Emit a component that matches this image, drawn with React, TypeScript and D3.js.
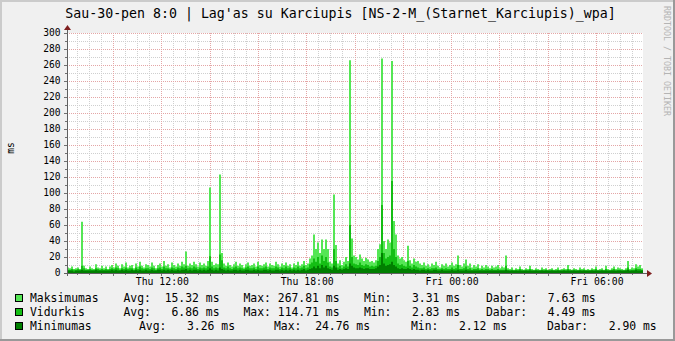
import React from 'react';
import * as d3 from 'd3';

// 5-minute samples, Thu ~08:06 .. Fri ~07:57
const maxVals: number[] = [
  7,6,8,5,6,7,5,64,9,6,5,8,6,5,11,7,6,9,6,8,5,
  8,10,7,12,9,6,11,8,13,7,9,10,6,12,8,14,9,7,11,10,8,13,9,6,10,12,8,15,9,11,7,13,10,8,12,9,14,11,
  27,
  9,12,10,14,11,8,13,10,12,9,15,
  107,
  14,10,12,11,
  123,
  25,
  12,9,13,10,8,11,14,9,12,10,7,11,13,9,10,12,8,14,10,9,11,13,8,12,10,9,14,11,8,12,10,13,9,11,7,12,10,14,9,11,15,10,12,18,22,
  48,30,38,25,42,30,42,30,
  14,12,
  98,
  35,
  12,16,10,14,20,15,
  266,
  43,
  22,20,17,23,18,15,19,17,14,15,13,16,
  30,36,
  268,
  40,30,42,38,
  265,
  65,
  48,22,18,20,16,
  14,
  34,
  16,12,18,14,
  15,12,10,13,9,11,8,12,10,14,9,7,11,9,12,8,10,13,9,11,
  22,
  10,8,12,
  17,
  9,12,7,10,8,11,6,9,7,10,8,6,9,7,8,10,6,8,7,
  22,
  6,5,7,4,6,5,8,5,4,6,
  5,9,5,4,6,5,4,7,5,6,
  4,5,6,4,5,7,4,5,6,5,
  10,5,4,6,5,4,7,5,6,4,
  5,4,6,5,8,4,5,6,4,9,
  5,4,6,8,5,7,6,5,4,6,
  15,5,7,6,11,8,10,6,
];

const avgVals: number[] = [
  4,4,5,4,4,5,4,9,6,4,4,5,4,4,6,5,4,5,4,5,4,
  5,6,5,7,6,4,6,5,7,5,6,6,4,7,5,8,6,5,6,6,5,7,6,4,6,7,5,8,6,6,5,7,6,5,7,6,8,7,
  9,
  6,7,6,8,7,5,7,6,7,6,8,
  21,
  8,6,7,6,
  23,
  16,
  7,6,8,6,5,7,8,6,7,6,5,7,8,6,6,7,5,8,6,6,7,8,5,7,6,6,8,7,5,7,6,8,6,7,5,7,6,8,6,7,9,6,7,11,13,
  18,14,20,12,22,15,20,13,
  8,7,
  30,
  15,
  7,9,6,8,11,8,
  60,
  20,
  12,11,10,13,10,9,11,10,8,9,8,9,
  15,20,
  85,
  25,18,20,22,
  115,
  30,
  20,12,10,11,9,
  8,
  15,
  9,7,10,8,
  7,6,6,7,5,6,5,6,6,7,5,5,6,5,6,5,5,7,5,6,
  10,
  5,5,6,
  8,
  5,6,4,5,5,6,4,5,4,5,5,4,5,4,4,5,4,4,4,
  9,
  4,3,4,3,4,3,5,3,3,4,
  3,5,3,3,4,3,3,4,3,4,
  3,3,4,3,3,4,3,3,4,3,
  5,3,3,4,3,3,4,3,4,3,
  3,3,4,3,5,3,3,4,3,5,
  3,3,4,5,3,4,4,3,3,4,
  7,3,4,4,6,5,5,4,
];

const minVals: number[] = [
  3,3,3,2,3,3,3,4,3,3,3,3,3,3,4,3,3,3,3,3,3,
  3,4,3,4,3,3,4,3,4,3,3,4,3,4,3,4,3,3,4,3,3,4,3,3,4,4,3,4,3,4,3,4,3,3,4,3,4,4,
  5,
  3,4,3,4,4,3,4,3,4,3,4,
  6,
  4,3,4,3,
  7,
  5,
  4,3,4,3,3,4,4,3,4,3,3,4,4,3,3,4,3,4,3,3,4,4,3,4,3,3,4,4,3,4,3,4,3,4,3,4,3,4,3,4,5,3,4,5,6,
  8,6,9,6,10,7,9,6,
  5,4,
  9,
  7,
  4,5,4,5,6,5,
  12,
  9,
  7,6,6,7,6,5,6,6,5,5,5,6,
  8,10,
  25,
  12,9,10,11,
  14,
  10,
  8,6,5,6,5,
  5,
  6,
  5,4,5,4,
  4,3,4,4,3,4,3,3,4,4,3,3,4,3,3,3,3,4,3,3,
  4,
  3,3,3,
  4,
  3,3,3,3,3,3,3,3,3,3,3,3,3,3,3,3,3,3,3,
  4,
  3,3,3,3,3,3,3,3,3,3,
  3,3,3,3,3,3,3,3,3,3,
  3,3,3,3,3,3,3,3,3,3,
  3,3,3,3,3,3,3,3,3,3,
  3,3,3,3,3,3,3,3,3,3,
  3,3,3,3,3,3,3,3,3,3,
  4,3,3,3,4,3,3,3,
];

const seriesNames = ['Maksimumas', 'Vidurkis', 'Minimumas'];
const seriesColors = ['#55e655', '#14be14', '#007f00'];
const legendRows: string[][] = [
  ['Avg:  15.32 ms', 'Max: 267.81 ms', 'Min:   3.31 ms', 'Dabar:   7.63 ms'],
  ['Avg:   6.86 ms', 'Max: 114.71 ms', 'Min:   2.83 ms', 'Dabar:   4.49 ms'],
  ['Avg:   3.26 ms', 'Max:  24.76 ms', 'Min:   2.12 ms', 'Dabar:   2.90 ms'],
];
const legendX: number[][] = [
  [123.5, 243.5, 364, 486],
  [123.5, 243.5, 364, 486],
  [139, 274, 411, 547],
];
const title = "Sau-30-pen 8:0 | Lag'as su Karciupis [NS-2-M_(Starnet_Karciupis)_wpa]";
const xLabelFmt = d3.utcFormat('%a %H:%M');

const FONT = "'DejaVu Sans Mono', monospace";

export default function App() {
  const W = 675, H = 341;
  const left = 67, right = 643, top = 33, bottom = 273;
  const start = new Date(Date.UTC(2009, 0, 29, 8, 5, 42));
  const end = new Date(start.getTime() + 23.85 * 3600e3);
  const x = d3.scaleUtc().domain([start, end]).range([left, right]);
  const y = d3.scaleLinear().domain([0, 300]).range([bottom, top]);
  const n = maxVals.length;
  const step = (end.getTime() - start.getTime()) / n;
  const times = d3.range(n + 1).map(i => new Date(start.getTime() + i * step));

  const areaGen = d3.area<number>()
    .x((_, i) => x(times[i]))
    .y0(y(0))
    .y1(d => y(d))
    .curve(d3.curveStepAfter);
  const pathFor = (vals: number[]) => areaGen(vals.concat([vals[vals.length - 1]])) || '';

  const yMinor = d3.range(10, 301, 10).filter(v => v % 20 !== 0);
  const yMajor = d3.range(20, 301, 20);
  const yLabels = d3.range(0, 301, 20);
  const vMajor = d3.utcHour.every(2)!.range(start, end);
  const vMinor = d3.utcMinute.every(30)!.range(start, end).filter(t => !(t.getUTCMinutes() === 0 && t.getUTCHours() % 2 === 0));
  const xLabelTicks = d3.utcHour.every(6)!.range(start, end);

  const px = (v: number) => Math.round(v) + 0.5;

  return (
    <svg width={W} height={H} style={{ position: 'absolute', left: 0, top: 0, display: 'block' }} xmlns="http://www.w3.org/2000/svg">
      <rect x={0} y={0} width={W} height={H} fill="#f0f0f0" />
      {/* 3D frame */}
      <rect x={0} y={0} width={W} height={2} fill="#cbcbcb" />
      <rect x={0} y={0} width={2} height={H} fill="#cbcbcb" />
      <rect x={0} y={H - 2} width={W} height={2} fill="#999999" />
      <rect x={W - 2} y={0} width={2} height={H} fill="#999999" />
      {/* canvas */}
      <rect x={left} y={top} width={right - left} height={bottom - top} fill="#ffffff" />

      {/* grid */}
      <g strokeWidth={1} strokeDasharray="1,1" fill="none">
        {yMinor.map(v => (
          <line key={'ym' + v} x1={left} x2={right} y1={px(y(v))} y2={px(y(v))} stroke="#cfcfcf" />
        ))}
        {vMinor.map(t => (
          <line key={'vm' + t.getTime()} x1={px(x(t))} x2={px(x(t))} y1={top} y2={bottom} stroke="#cfcfcf" />
        ))}
        {yMajor.map(v => (
          <line key={'yM' + v} x1={left} x2={right} y1={px(y(v))} y2={px(y(v))} stroke="#e4a6a6" />
        ))}
        {vMajor.map(t => (
          <line key={'vM' + t.getTime()} x1={px(x(t))} x2={px(x(t))} y1={top} y2={bottom} stroke="#e4a6a6" />
        ))}
      </g>

      {/* data areas */}
      <path d={pathFor(maxVals)} fill={seriesColors[0]} />
      <path d={pathFor(avgVals)} fill={seriesColors[1]} />
      <path d={pathFor(minVals)} fill={seriesColors[2]} />

      {/* ticks */}
      <g stroke="#707070" strokeWidth={1}>
        {yMajor.map(v => (
          <line key={'yt' + v} x1={left - 3} x2={left} y1={px(y(v))} y2={px(y(v))} />
        ))}
        {yMinor.map(v => (
          <line key={'ytm' + v} x1={left - 2} x2={left} y1={px(y(v))} y2={px(y(v))} />
        ))}
        {vMajor.map(t => (
          <line key={'xt' + t.getTime()} x1={px(x(t))} x2={px(x(t))} y1={bottom} y2={bottom + 3} />
        ))}
        {vMinor.map(t => (
          <line key={'xtm' + t.getTime()} x1={px(x(t))} x2={px(x(t))} y1={bottom} y2={bottom + 2} />
        ))}
      </g>

      {/* axes */}
      <line x1={left - 3} x2={right + 4} y1={bottom + 0.5} y2={bottom + 0.5} stroke="#606060" strokeWidth={1} />
      <line x1={left + 0.5} x2={left + 0.5} y1={bottom + 3} y2={top - 3} stroke="#606060" strokeWidth={1} />
      <path d={`M${right + 4},${bottom - 3} L${right + 9},${bottom + 0.5} L${right + 4},${bottom + 4} Z`} fill="#7f1f1f" />
      <path d={`M${left - 3},${top - 3} L${left + 0.5},${top - 8} L${left + 4},${top - 3} Z`} fill="#7f1f1f" />

      {/* y labels */}
      <g fontFamily={FONT} fontSize={9.6} fill="#000" textAnchor="end">
        {yLabels.map(v => (
          <text key={'yl' + v} x={60.5} y={y(v)} dy="0.35em">{v}</text>
        ))}
      </g>
      {/* x labels */}
      <g fontFamily={FONT} fontSize={9.8} fill="#000" textAnchor="middle">
        {xLabelTicks.map(t => (
          <text key={'xl' + t.getTime()} x={x(t) + 1} y={285}>{xLabelFmt(t)}</text>
        ))}
      </g>

      {/* unit label */}
      <text transform="translate(10,148) rotate(-90)" fontFamily={FONT} fontSize={9.6} textAnchor="middle" dominantBaseline="central" fill="#000">ms</text>

      {/* title */}
      <text x={340.5} y={17.5} textAnchor="middle" fontFamily={FONT} fontSize={13.25} fill="#000">{title}</text>

      {/* watermark */}
      <text transform="translate(667,6) rotate(90)" fontFamily={FONT} fontSize={8.3} fill="#b4b4b4" dominantBaseline="central">RRDTOOL / TOBI OETIKER</text>

      {/* legend */}
      <g fontFamily={FONT} fontSize={11.4} fill="#000">
        {seriesNames.map((name, r) => {
          const base = 302 + r * 14;
          return (
            <g key={name}>
              <rect x={15.5} y={base - 7.5} width={7} height={7} fill={seriesColors[r]} stroke="#000" strokeWidth={1} />
              <text x={30} y={base} style={{ whiteSpace: 'pre' }}>{name}</text>
              {legendRows[r].map((s, c) => (
                <text key={c} x={legendX[r][c]} y={base} style={{ whiteSpace: 'pre' }}>{s}</text>
              ))}
            </g>
          );
        })}
      </g>
    </svg>
  );
}
